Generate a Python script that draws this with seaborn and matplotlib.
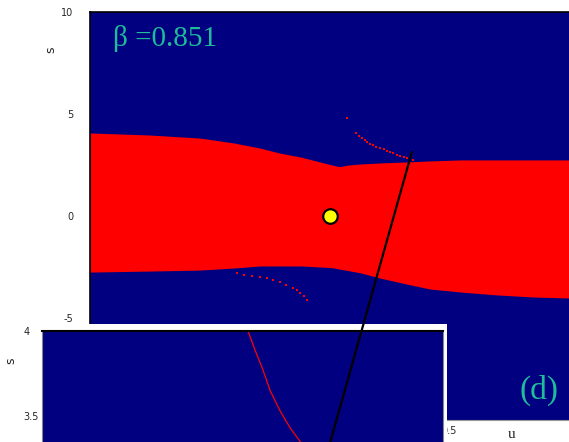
import numpy as np
import pandas as pd
import seaborn as sns
import matplotlib.pyplot as plt
from matplotlib.patches import ConnectionPatch

# boundary of the red basin (u grid, upper and lower edge of s)
u_grid = [-1.0, -0.75, -0.54, -0.4, -0.29, -0.21, -0.12, -0.04, 0.01, 0.04, 0.08, 0.13,
          0.21, 0.32, 0.42, 0.55, 0.7, 0.85, 1.0]
s_upper = [4.07, 3.97, 3.82, 3.58, 3.33, 3.09, 2.89, 2.65, 2.50, 2.42, 2.50, 2.55,
           2.60, 2.65, 2.70, 2.75, 2.75, 2.75, 2.75]
s_lower = [-2.75, -2.70, -2.65, -2.55, -2.45, -2.45, -2.45, -2.50, -2.53, -2.60, -2.68, -2.79,
           -3.04, -3.33, -3.58, -3.73, -3.87, -3.97, -4.02]

# isolated red points near the edges
speck_up_u = [0.073, 0.111, 0.124, 0.136, 0.147, 0.157, 0.170, 0.182, 0.196, 0.211,
              0.226, 0.240, 0.253, 0.265, 0.280, 0.294, 0.309, 0.324, 0.337, 0.349]
speck_up_s = [4.80, 4.07, 3.94, 3.82, 3.72, 3.63, 3.55, 3.48, 3.40, 3.33,
              3.26, 3.19, 3.14, 3.09, 3.01, 2.94, 2.89, 2.84, 2.80, 2.75]
speck_lo_u = [-0.386, -0.355, -0.324, -0.292, -0.261, -0.234, -0.207, -0.180, -0.152,
              -0.137, -0.123, -0.108, -0.094]
speck_lo_s = [-2.79, -2.87, -2.94, -2.99, -3.04, -3.14, -3.24, -3.38, -3.53,
              -3.65, -3.77, -3.94, -4.12]

# fixed point
fp_u = [0.0]
fp_s = [0.0]

# zoomed curve in the inset
zoom_u = [0.111, 0.125, 0.141, 0.155, 0.175, 0.195, 0.215, 0.225]
zoom_s = [4.0, 3.888, 3.77, 3.65, 3.53, 3.43, 3.35, 3.30]

main_yticks = [10, 5, 0, -5, -10]
main_xticks = [-1, -0.5, 0, 0.5]
main_xlabels = ["-1", "-0.5", "0", "0.5"]
inset_yticks = [4, 3.5]
inset_ylabels = ["4", "3.5"]

navy = "#000080"
teal = "#1fbc9c"

sns.set_style("white")
plt.rcParams["font.family"] = ["DejaVu Sans"]

W, H = 569, 442
fig = plt.figure(figsize=(W / 100, H / 100), dpi=100)

ax = fig.add_axes([90 / W, 1 - 420 / H, 479 / W, 408 / H])
ax.set_facecolor(navy)
ax.fill_between(u_grid, s_lower, s_upper, color="red", lw=0)
sns.scatterplot(x=speck_up_u + speck_lo_u, y=speck_up_s + speck_lo_s, ax=ax,
                color="red", marker="s", s=2.5, linewidth=0)
sns.scatterplot(x=fp_u, y=fp_s, ax=ax, color="yellow", edgecolor="black",
                s=110, linewidth=1.6, zorder=5)
ax.set_xlim(-1, 1)
ax.set_ylim(-10, 10)
ax.set_yticks(main_yticks)
ax.set_yticklabels([str(v) for v in main_yticks])
ax.set_xticks(main_xticks)
ax.set_xticklabels(main_xlabels)
ax.tick_params(axis="y", length=0, pad=12, labelsize=7)
ax.tick_params(axis="x", length=0, pad=4, labelsize=7)
for side in ["left", "top"]:
    ax.spines[side].set_color("black")
    ax.spines[side].set_linewidth(1.2)
ax.spines["bottom"].set_color("#999999")
ax.spines["right"].set_visible(False)
ax.set_ylabel("s", rotation=90, fontsize=9)
ax.yaxis.set_label_coords(-0.069, 0.907)
ax.set_xlabel("u", fontsize=11, family="Liberation Serif", va="center")
ax.xaxis.set_label_coords(0.881, -0.035)
ax.text(0.048, 0.917, "β =0.851", transform=ax.transAxes, color=teal,
        fontsize=21, family="Liberation Serif", va="baseline", ha="left")
ax.text(0.937, 0.073, "(d)", transform=ax.transAxes, color=teal,
        fontsize=24, family="Liberation Serif", va="center", ha="center")

# white frame behind the inset
frame = fig.add_axes([40 / W, 1 - 560 / H, 407 / W, (560 - 324) / H])
frame.set_facecolor("white")
frame.set_xticks([])
frame.set_yticks([])
for sp in frame.spines.values():
    sp.set_visible(False)

inset = fig.add_axes([42 / W, 1 - 501 / H, 401 / W, 170 / H])
inset.set_facecolor(navy)
sns.lineplot(x=zoom_u, y=zoom_s, ax=inset, color="red", lw=0.9, sort=False)
inset.set_xlim(-0.3, 0.5)
inset.set_ylim(3.0, 4.0)
inset.set_xticks([])
inset.set_yticks(inset_yticks)
inset.set_yticklabels(inset_ylabels)
inset.tick_params(axis="y", length=0, pad=13.5, labelsize=7)
for lbl in inset.get_yticklabels():
    lbl.set_horizontalalignment("left")
inset.spines["top"].set_color("black")
inset.spines["top"].set_linewidth(1.5)
inset.spines["left"].set_color("#888888")
inset.spines["right"].set_color("#888888")
inset.set_ylabel("s", rotation=90, fontsize=9)
inset.yaxis.set_label_coords(-0.062, 0.824)

con = ConnectionPatch(xyA=(0.344, 3.14), coordsA=ax.transData,
                      xyB=(0.263, 3.22), coordsB=inset.transData,
                      color="black", lw=1.6, zorder=10)
fig.add_artist(con)

fig.savefig("out.png", dpi=100)
